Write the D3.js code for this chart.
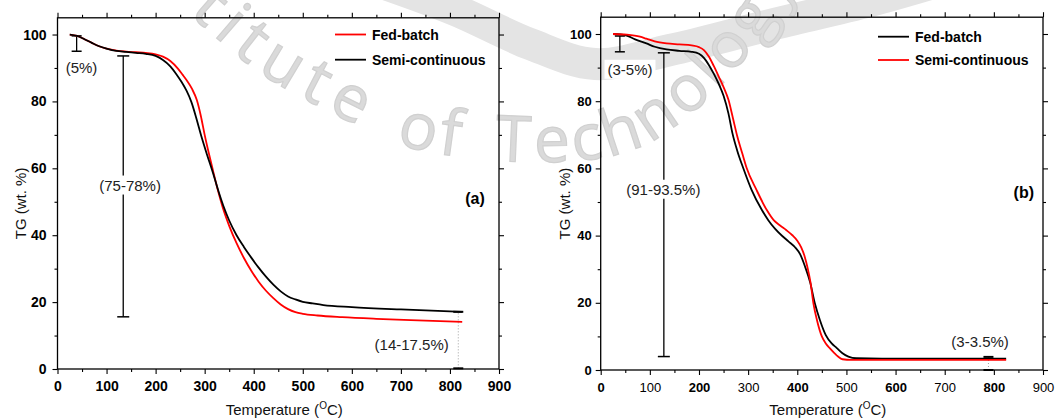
<!DOCTYPE html>
<html>
<head>
<meta charset="utf-8">
<script src="https://cdn.jsdelivr.net/npm/d3@7"></script>
<style>
  body { margin: 0; background: #fff; }
  svg { display: block; }
  text { font-family: "Liberation Sans", Arial, sans-serif; fill: #000; }
</style>
</head>
<body>
<svg id="fig" width="1056" height="420"></svg>
<script>
// ---- tick values ----
const tempTicks = [0, 100, 200, 300, 400, 500, 600, 700, 800, 900];
const tempMinor = [50, 150, 250, 350, 450, 550, 650, 750, 850];
const tgTicks = [0, 20, 40, 60, 80, 100];
const tgMinor = [10, 30, 50, 70, 90];

// ---- (a) TG curves: [temperature °C, TG wt.%] ----
const fedBatchA = [[25,100],[40,99.6],[55,98.6],[70,97.5],[85,96.5],[100,95.8],[120,95.2],[140,94.9],[160,94.7],[180,94.5],[200,94.1],[215,93.4],[230,92.1],[245,89.9],[255,88],[263,86.4],[274,83.8],[284,80.4],[292,75.8],[300,70],[308,64.8],[317,59.3],[327,53.4],[337,48.2],[350,42.8],[365,37.6],[380,33.2],[395,29.4],[410,26.1],[425,23.4],[440,21.2],[455,19.3],[470,17.9],[485,17],[500,16.5],[530,16],[580,15.5],[650,15],[720,14.6],[780,14.3],[825,14.1]];
const semiContA = [[25,100],[40,99.6],[55,98.6],[70,97.5],[85,96.5],[100,95.8],[120,95.1],[140,94.8],[160,94.5],[180,94.2],[200,93.6],[215,92.4],[230,90.5],[243,88],[253,85.8],[263,83.2],[273,79.8],[283,75],[294,69.2],[305,64],[317,58.6],[328,53.2],[338,48.8],[350,44.4],[365,40],[380,36.5],[395,33.3],[410,30.3],[425,27.6],[440,25.2],[455,23.2],[470,21.7],[485,20.8],[500,20.1],[520,19.6],[542,19.1],[600,18.5],[700,17.8],[825,17.1]];

// ---- (b) TG curves ----
const fedBatchB = [[25,100],[40,99.9],[53,99.5],[70,98.4],[93,97.2],[110,96.2],[134,95.4],[160,95],[185,94.7],[200,94.1],[210,92.9],[220,90.8],[230,88.2],[240,85.2],[250,81.6],[260,76.3],[268,70.5],[278,65.2],[290,60.1],[307,53.6],[328,47.6],[341,44.6],[355,42],[370,39.8],[382,38.3],[395,36.6],[406,34.4],[416,30.7],[426,26.2],[436,19.7],[446,14.9],[458,10.4],[470,7.9],[480,6.6],[492,5],[504,4],[520,3.5],[600,3.4],[700,3.4],[825,3.4]];
const semiContB = [[25,100],[53,99.8],[80,99.2],[93,98.6],[110,97.8],[134,97.2],[160,96.9],[185,96.6],[200,96.1],[210,95.2],[220,93.3],[230,90.5],[240,87.4],[250,84.2],[260,80.4],[269,75],[278,69.5],[288,64.5],[297,60.1],[317,53.6],[338,47.6],[352,44.6],[365,43],[378,41.6],[390,40.1],[400,38.5],[408,36.5],[415,33.8],[421,30.4],[427,26],[433,19.7],[440,14.9],[450,10],[458,7.9],[466,6.5],[475,5.1],[483,4],[492,3.2],[510,3],[600,3],[700,3],[825,3]];

// ---- mass-loss ranges: [temperature, low, high] ----
const lossBarsA = [[39, 95.0, 99.6], [134, 15.6, 93.6], [817, 0.2, 17.1]];
const lossBarsB = [[39, 94.7, 99.4], [128.5, 4.0, 94.4], [789, 0.0, 3.9]];
const lossLabelsA = ["(5%)", "(75-78%)", "(14-17.5%)"];
const lossLabelsB = ["(3-5%)", "(91-93.5%)", "(3-3.5%)"];
// label anchor points [temperature, TG]
const labelPosA = [[49, 90], [148, 55], [722, 7.2]];
const labelPosB = [[59.6, 89.5], [127.4, 53.8], [772, 8.4]];

const svg = d3.select("#fig");

// ---- faint background lettering ----
const bg = svg.append("g");
const bandPts = [[385,-16],[455,10],[530,44],[595,64],[670,50],[770,25],[870,1],[930,-16]];
bg.append("path")
  .attr("d", d3.line().curve(d3.curveCatmullRom)(bandPts))
  .attr("fill", "none").attr("stroke", "#e4e4e4").attr("stroke-width", 32);
const arcPts = [[130,-40],[205,28],[262,74],[338,116],[405,146],[470,158],[540,162],[600,158],[650,142],[700,106],[740,64],[775,18],[805,-40]];
const wmPath = bg.append("path").attr("id", "wmPath")
  .attr("d", d3.line().curve(d3.curveCatmullRom)(arcPts))
  .attr("fill", "none").node();
// arc-length offset of the path point whose x is closest to a target
function offsetAtX(tx) {
  const L = wmPath.getTotalLength();
  let best = 0, bd = Infinity;
  for (let s = 0; s <= L; s += 1) {
    const d = Math.abs(wmPath.getPointAtLength(s).x - tx);
    if (d < bd) { bd = d; best = s; }
  }
  return best;
}
const wmWords = [["titute", 366, "end", 9], ["of", 396, "start", 5], ["Technology", 495, "start", 4]];
wmWords.forEach(([w, tx, anchor, ls]) => {
  bg.append("text")
    .style("font-family", "'Open Sans', 'DejaVu Sans', sans-serif")
    .style("font-size", "64px").style("letter-spacing", ls + "px")
    .style("fill", "#dadada").style("stroke", "#d0d0d0").style("stroke-width", 1.2)
    .append("textPath").attr("href", "#wmPath")
    .attr("startOffset", offsetAtX(tx)).attr("text-anchor", anchor)
    .text(w);
});

// ---- panel builder ----
function panel(cfg) {
  const x = d3.scaleLinear().domain([0, 900]).range(cfg.xr);
  const y = d3.scaleLinear().domain([0, 105]).range(cfg.yr);
  const g = svg.append("g");
  const [x0, x1] = cfg.xr, [yb, yt] = cfg.yr;

  const axes = [
    [d3.axisBottom(x), yb, "x", true], [d3.axisTop(x), yt, "x", false],
    [d3.axisLeft(y), x0, "y", true], [d3.axisRight(y), x1, "y", false]
  ];
  axes.forEach(([ax, pos, dim, lab]) => {
    const tr = dim === "x" ? `translate(0,${pos})` : `translate(${pos},0)`;
    const gm = g.append("g").attr("transform", tr)
      .call(ax.tickValues(dim === "x" ? tempTicks : tgTicks).tickSize(5)
        .tickPadding(dim === "x" ? cfg.xpad : cfg.ypad)
        .tickFormat(lab ? d3.format("d") : ""));
    gm.select(".domain").remove();
    gm.selectAll("line").attr("stroke", "#000").attr("stroke-width", 1.1);
    gm.selectAll("text").style("font-size", cfg.tickFont + "px")
      .style("font-weight", "bold").style("fill", "#000")
      .attr("font-family", null);
    if (dim === "x" && cfg.altWeight) {
      gm.selectAll("text").style("font-weight", d => (d / 100) % 2 === 0 ? "bold" : "normal");
    }
    const gn = g.append("g").attr("transform", tr)
      .call(ax.tickValues(dim === "x" ? tempMinor : tgMinor).tickSize(3).tickFormat(""));
    gn.select(".domain").remove();
    gn.selectAll("line").attr("stroke", "#000").attr("stroke-width", 1.1);
  });

  g.append("rect").attr("x", x0).attr("y", yt).attr("width", x1 - x0).attr("height", yb - yt)
    .attr("fill", "none").attr("stroke", "#000").attr("stroke-width", 1.3);

  // mass-loss bars
  cfg.bars.forEach((b, i) => {
    const [t, lo, hi] = b;
    const dotted = i === 2;
    const cap = i === 1 ? 6 : 5;
    g.append("line").attr("x1", x(t)).attr("x2", x(t)).attr("y1", y(lo)).attr("y2", y(hi))
      .attr("stroke", dotted ? "#a0a0a0" : "#000").attr("stroke-width", dotted ? 1 : 1.3)
      .attr("stroke-dasharray", dotted ? "1,2" : null);
    [lo, hi].forEach(v => g.append("line")
      .attr("x1", x(t) - cap).attr("x2", x(t) + cap).attr("y1", y(v)).attr("y2", y(v))
      .attr("stroke", "#000").attr("stroke-width", dotted ? 2 : 1.5));
  });

  // curves
  const line = d3.line().x(d => x(d[0])).y(d => y(d[1])).curve(d3.curveMonotoneX);
  cfg.series.forEach(s => {
    g.append("path").datum(s.data).attr("d", line)
      .attr("fill", "none").attr("stroke", s.color).attr("stroke-width", 1.8);
  });

  // range labels
  cfg.labels.forEach((txt, i) => {
    const [t, v] = cfg.labelPos[i];
    const tx = g.append("text").attr("x", x(t)).attr("y", y(v))
      .attr("text-anchor", "middle").attr("dominant-baseline", "central")
      .style("font-size", "15px").style("fill", "#222").text(txt);
    if (cfg.boxed[i]) {
      const bb = tx.node().getBBox();
      g.insert("rect", () => tx.node())
        .attr("x", bb.x - 3).attr("y", bb.y - 1).attr("width", bb.width + 6).attr("height", bb.height + 2)
        .attr("fill", "#fff");
    }
  });

  // panel tag
  g.append("text").attr("x", x(cfg.tag[1])).attr("y", y(cfg.tag[2]))
    .attr("text-anchor", "middle").attr("dominant-baseline", "central")
    .style("font-size", "16px").style("font-weight", "bold").text(cfg.tag[0]);

  // legend
  cfg.series.forEach((s, i) => {
    const ly = cfg.legY[i];
    g.append("line").attr("x1", cfg.legX).attr("x2", cfg.legX + 31).attr("y1", ly).attr("y2", ly)
      .attr("stroke", s.color).attr("stroke-width", 1.8);
    g.append("text").attr("x", cfg.legX + 37).attr("y", ly).attr("dominant-baseline", "central")
      .style("font-size", "14px").style("font-weight", "bold").text(s.name);
  });

  // axis titles
  const xt = g.append("text").attr("x", (x0 + x1) / 2 + 6).attr("y", 415)
    .attr("text-anchor", "middle").style("font-size", "15px").style("fill", "#111");
  xt.append("tspan").text("Temperature (");
  xt.append("tspan").attr("dy", -6).style("font-size", "10px").text("O");
  xt.append("tspan").attr("dy", 6).text("C)");
  g.append("text").attr("transform", `translate(${cfg.ytx},${(yb + yt) / 2 + 10}) rotate(-90)`)
    .attr("text-anchor", "middle").attr("dominant-baseline", "central")
    .style("font-size", "15px").style("fill", "#111").text("TG (wt. %)");
}

panel({
  xr: [57.5, 499], yr: [369, 17.8],
  xpad: 7, ypad: 6, tickFont: 14, altWeight: false,
  series: [
    { name: "Fed-batch", color: "#ff0000", data: fedBatchA },
    { name: "Semi-continuous", color: "#000", data: semiContA }
  ],
  bars: lossBarsA, labels: lossLabelsA, labelPos: labelPosA, boxed: [false, true, false],
  tag: ["(a)", 851, 51.1], legX: 335, legY: [34.5, 59.7], ytx: 20
});

panel({
  xr: [600.7, 1043], yr: [370, 17.2],
  xpad: 8, ypad: 4, tickFont: 13, altWeight: true,
  series: [
    { name: "Fed-batch", color: "#000", data: fedBatchB },
    { name: "Semi-continuous", color: "#ff0000", data: semiContB }
  ],
  bars: lossBarsB, labels: lossLabelsB, labelPos: labelPosB, boxed: [true, true, false],
  tag: ["(b)", 861, 52.7], legX: 878, legY: [36.7, 60], ytx: 564
});
</script>
</body>
</html>
